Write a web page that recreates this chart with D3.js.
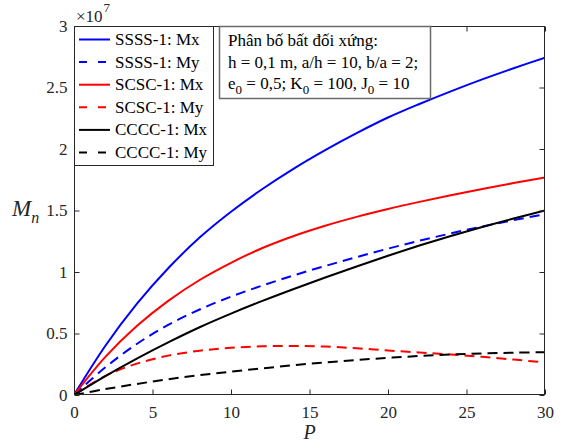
<!DOCTYPE html>
<html><head><meta charset="utf-8">
<script src="https://cdn.jsdelivr.net/npm/d3@7"></script>
<style>
html,body{margin:0;padding:0;background:#fff;}
svg{display:block;font-family:"Liberation Serif","Times New Roman",serif;}
</style></head>
<body><svg id="c" width="563" height="444"></svg>
<script>
// ---- data (values in units of 1e7) ----
const P = [0,2,4,6,8,10,12,14,16,18,20,22,24,26,28,30];
const ssssMx = [0,0.40,0.74,1.03,1.28,1.49,1.675,1.841,1.991,2.129,2.256,2.366,2.469,2.566,2.657,2.743];
const ssssMy = [0,0.225,0.415,0.57,0.695,0.80,0.89,0.973,1.049,1.121,1.19,1.254,1.314,1.37,1.422,1.47];
const scscMx = [0,0.31,0.56,0.765,0.935,1.075,1.195,1.293,1.376,1.448,1.512,1.57,1.624,1.675,1.723,1.769];
const scscMy = [0,0.155,0.255,0.32,0.36,0.384,0.396,0.399,0.394,0.38,0.362,0.346,0.329,0.31,0.288,0.265];
const ccccMx = [0,0.154,0.296,0.428,0.551,0.662,0.765,0.862,0.955,1.045,1.132,1.215,1.293,1.366,1.435,1.50];
const ccccMy = [0,0.048,0.09,0.128,0.161,0.19,0.217,0.242,0.265,0.285,0.302,0.317,0.329,0.338,0.344,0.348];
const seriesNames = ["SSSS-1: Mx","SSSS-1: My","SCSC-1: Mx","SCSC-1: My","CCCC-1: Mx","CCCC-1: My"];
const seriesColors = ["#0000ff","#0000ff","#ff0000","#ff0000","#000000","#000000"];
const seriesDashed = [false,true,false,true,false,true];
const seriesValues = [ssssMx,ssssMy,scscMx,scscMy,ccccMx,ccccMy];
const xTicks = [0,5,10,15,20,25,30];
const yTicks = [0,0.5,1,1.5,2,2.5,3];
const yTickLabels = ["0","0.5","1","1.5","2","2.5","3"];
const exponent = "7";
const noteLines = [
  [["Phân bố bất đối xứng:",false]],
  [["h = 0,1 m, a/h = 10, b/a = 2;",false]],
  [["e",false],["0",true],[" = 0,5; K",false],["0",true],[" = 100, J",false],["0",true],[" = 10",false]]
];

// ---- layout ----
const L=74, R=545, T=26, B=395;
const axisCol="#262626";
const svg=d3.select("#c");
const x=d3.scaleLinear().domain([0,30]).range([L,R]);
const y=d3.scaleLinear().domain([0,3]).range([B,T]);

svg.append("defs").append("clipPath").attr("id","clip")
  .append("rect").attr("x",L).attr("y",T).attr("width",R-L).attr("height",B-T);

// curves
const line=d3.line().x((d,i)=>x(P[i])).y(d=>y(d)).curve(d3.curveCatmullRom.alpha(0.5));
const g=svg.append("g").attr("clip-path","url(#clip)");
seriesValues.forEach((vals,k)=>{
  g.append("path").attr("d",line(vals)).attr("fill","none")
   .attr("stroke",seriesColors[k]).attr("stroke-width",2)
   .attr("stroke-dasharray",seriesDashed[k]?"10,6":null);
});

// axes (box with inward ticks)
const tk=5;
const ax=svg.append("g").attr("stroke",axisCol).attr("stroke-width",1).attr("fill","none");
ax.append("rect").attr("x",L+0.5).attr("y",T+0.5).attr("width",R-L-1).attr("height",B-T-1);
const bottomAxis=d3.axisBottom(x).tickValues(xTicks).tickSize(-tk).tickPadding(11).tickFormat(d3.format("d"));
const gb=svg.append("g").attr("transform",`translate(0,${B-0.5})`).call(bottomAxis);
const topAxis=d3.axisTop(x).tickValues(xTicks).tickSize(-tk).tickFormat("");
const gt=svg.append("g").attr("transform",`translate(0,${T+0.5})`).call(topAxis);
const leftAxis=d3.axisLeft(y).tickValues(yTicks).tickSize(-tk).tickPadding(7).tickFormat((d,i)=>yTickLabels[i]);
const gl=svg.append("g").attr("transform",`translate(${L+0.5},0)`).call(leftAxis);
const rightAxis=d3.axisRight(y).tickValues(yTicks).tickSize(-tk).tickFormat("");
const gr=svg.append("g").attr("transform",`translate(${R-0.5},0)`).call(rightAxis);
[gb,gt,gl,gr].forEach(a=>{
  a.select(".domain").remove();
  a.selectAll("line").attr("stroke",axisCol);
  a.selectAll("text").attr("fill",axisCol).style("font-size","17px").style("font-family","Liberation Serif");
});

// axis labels
svg.append("text").attr("x",x(15)).attr("y",439).attr("text-anchor","middle")
  .style("font-size","20px").style("font-style","italic").attr("fill",axisCol).text("P");
const ml=svg.append("text").attr("x",12).attr("y",216).attr("fill",axisCol).style("font-style","italic");
ml.append("tspan").style("font-size","23px").text("M");
ml.append("tspan").style("font-size","16px").attr("dy",7).text("n");

// exponent
const ex=svg.append("text").attr("x",76).attr("y",22).attr("fill",axisCol);
ex.append("tspan").style("font-size","17px").text("\u00d710");
ex.append("tspan").style("font-size","13px").attr("dy",-10).attr("dx",1).text(exponent);

// legend
const lg=svg.append("g");
lg.append("rect").attr("x",L+0.5).attr("y",T+0.5).attr("width",213-L).attr("height",165-T)
  .attr("fill","#fff").attr("stroke",axisCol).attr("stroke-width",1);
seriesNames.forEach((nm,k)=>{
  const cy=39.5+k*22.6;
  lg.append("line").attr("x1",79).attr("x2",110).attr("y1",cy).attr("y2",cy)
    .attr("stroke",seriesColors[k]).attr("stroke-width",2)
    .attr("stroke-dasharray",seriesDashed[k]?"8,11":null);
  lg.append("text").attr("x",115).attr("y",cy+5.5).style("font-size","17px").attr("fill","#000").text(nm);
});

// annotation box
const nb=svg.append("g");
nb.append("rect").attr("x",219.5).attr("y",26.5).attr("width",211).attr("height",72)
  .attr("fill","#fff").attr("stroke","#6a6a6a").attr("stroke-width",1.5);
noteLines.forEach((parts,i)=>{
  const t=nb.append("text").attr("x",228).attr("y",46+i*21.5).style("font-size","17px").attr("fill","#000");
  let sub=false;
  parts.forEach(([s,isSub])=>{
    const ts=t.append("tspan").text(s);
    if(isSub&&!sub){ts.attr("dy",5).style("font-size","13px");sub=true;}
    else if(!isSub&&sub){ts.attr("dy",-5).style("font-size","17px");sub=false;}
    else if(isSub){ts.style("font-size","13px");}
  });
});
</script></body></html>
